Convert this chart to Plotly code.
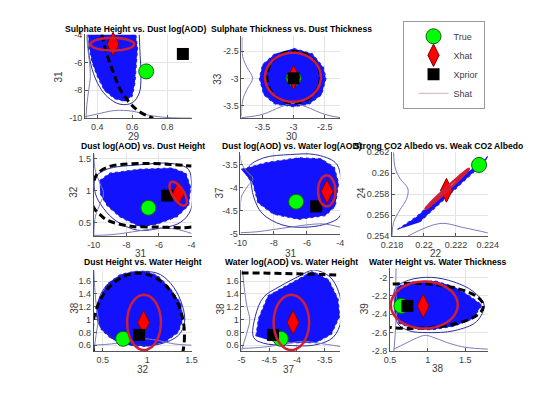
import numpy as np
import plotly.graph_objects as go

# panel order: rows of the 3x3 grid, the top-right cell holds the legend
titles = ["Sulphate Height vs. Dust log(AOD)", "Sulphate Thickness vs. Dust Thickness",
          "Dust log(AOD) vs. Dust Height", "Dust log(AOD) vs. Water log(AOD)",
          "Strong CO2 Albedo vs. Weak CO2 Albedo", "Dust Height vs. Water Height",
          "Water log(AOD) vs. Water Height", "Water Height vs. Water Thickness"]
x_names = ["29", "30", "31", "31", "22", "32", "37", "38"]
y_names = ["31", "33", "32", "37", "24", "38", "38", "39"]

x_ranges = [[0.33, 0.94], [-3.84, -2.25], [-10, -4], [-10, -4], [0.218, 0.224],
            [0.4, 1.5], [-5, -3.22], [0.5, 1.8]]
y_ranges = [[-10, -4], [-3.73, -2.23], [0.29, 1.58], [-5, -3.23], [0.254, 0.262],
            [0.51, 1.77], [0.51, 1.77], [-2.8, -1.9]]
x_ticks = [[0.4, 0.6, 0.8], [-3.5, -3, -2.5], [-10, -8, -6, -4], [-10, -8, -6, -4],
           [0.218, 0.22, 0.222, 0.224], [0.5, 1, 1.5], [-5, -4.5, -4, -3.5], [0.5, 1, 1.5]]
y_ticks = [[-10, -8, -6, -4], [-3.5, -3, -2.5], [0.5, 1, 1.5], [-5, -4.5, -4, -3.5],
           [0.254, 0.256, 0.258, 0.26, 0.262], [0.6, 0.8, 1, 1.2, 1.4, 1.6],
           [0.6, 0.8, 1, 1.2, 1.4, 1.6], [-2.8, -2.6, -2.4, -2.2, -2]]

# True / Xhat / Xprior points
true_x = [0.68, -3.0, -6.65, -6.65, 0.22345, 0.73, -4.29, 0.65]
true_y = [-6.65, -3.0, 0.73, -4.3, 0.26079, 0.70, 0.70, -2.31]
xhat_x = [0.49, -3.0, -4.82, -4.8, 0.22141, 0.96, -4.07, 0.94]
xhat_y = [-4.7, -2.98, 0.95, -4.08, 0.25837, 0.955, 0.955, -2.31]
xprior_x = [0.89, -3.0, -5.5, -5.44, None, 0.91, -4.43, 0.73]
xprior_y = [-5.4, -3.0, 0.92, -4.4, None, 0.76, 0.76, -2.31]

# Shat ellipse: centre and two half-axis vectors (data units)
shat_cx = [0.486, -3.01, -4.82, -4.81, 0.22145, 0.965, -4.1, 0.955]
shat_cy = [-4.7, -2.98, 0.95, -4.065, 0.2585, 0.955, 0.955, -2.3]
shat_u = [(0.125, 0), (0.45, 0), (0.44, -0.18), (0.52, 0), (0.00135, 0.0019),
          (0.19, 0), (0.32, 0), (0.445, 0)]
shat_v = [(0, 0.45), (0, 0.45), (0.30, 0.048), (0, 0.335), (0.00006, -0.0001),
          (0, 0.43), (0, 0.43), (0, 0.255)]

# prior ellipses (dashed), axis aligned: cx, cy, a, b
prior_ell = [None, (-3.0, -2.98, 0.43, 0.475), None, None, None,
             (0.9, 0.75, 0.52, 0.97), None, (0.78, -2.31, 0.96, 0.245)]
# prior arcs that leave the axes, read as polylines
prior_x = [[0.425, 0.445, 0.47, 0.5, 0.525, 0.56, 0.6, 0.65, 0.72], None,
           [-4.0, -4.5, -6.0, -7.6, -8.5, -9.2, -9.6, -10.0, -10.2, -10.0, -9.75, -9.2, -8.5, -7.0, -5.5, -4.5, -4.0],
           None, None, None, [-5.0, -4.5, -4.0, -3.5, -3.22], None]
prior_y = [[-4.0, -5.0, -6.0, -7.0, -7.8, -8.5, -9.1, -9.6, -10.0], None,
           [0.43, 0.42, 0.43, 0.44, 0.48, 0.54, 0.62, 0.73, 0.94, 1.15, 1.27, 1.36, 1.40, 1.42, 1.41, 1.39, 1.38],
           None, None, None, [1.727, 1.722, 1.712, 1.70, 1.69], None]

# posterior sample clouds (outline of the dense scatter)
cloud_x = [[0.35, 0.355, 0.37, 0.40, 0.44, 0.50, 0.56, 0.60, 0.615, 0.625, 0.63, 0.62],
           [-3.0, -2.7, -2.52, -2.48, -2.55, -2.75, -3.0, -3.3, -3.48, -3.55, -3.5, -3.3],
           [-9.65, -9.0, -7.2, -5.2, -4.35, -4.06, -4.18, -4.9, -6.2, -7.2, -8.4, -9.2, -9.6],
           [-9.95, -8.4, -6.5, -5.15, -4.35, -4.1, -4.3, -4.9, -6.5, -8.0, -8.95, -9.25, -9.65],
           [0.21835, 0.2195, 0.221, 0.2225, 0.2235, 0.22405, 0.2236, 0.2226, 0.2212, 0.2197],
           [0.43, 0.45, 0.55, 0.7, 0.85, 1.0, 1.12, 1.25, 1.38, 1.4, 1.35, 1.2, 1.0, 0.8, 0.6, 0.48],
           [-4.74, -4.69, -4.52, -4.24, -3.95, -3.72, -3.43, -3.26, -3.23, -3.38, -3.66, -4.12, -4.47],
           [0.56, 0.6, 0.8, 1.1, 1.35, 1.55, 1.72, 1.6, 1.35, 1.05, 0.8, 0.62, 0.56]]
cloud_y = [[-4.0, -5.0, -6.0, -7.0, -8.0, -8.6, -8.8, -8.4, -7.5, -6.0, -5.0, -4.0],
           [-2.45, -2.55, -2.8, -3.0, -3.3, -3.47, -3.52, -3.47, -3.3, -3.0, -2.75, -2.55],
           [1.15, 1.27, 1.33, 1.35, 1.27, 1.05, 0.77, 0.59, 0.47, 0.44, 0.59, 0.77, 0.95],
           [-3.6, -3.45, -3.35, -3.37, -3.56, -3.9, -4.4, -4.6, -4.68, -4.57, -4.32, -3.9, -3.73],
           [0.25462, 0.2558, 0.2578, 0.2598, 0.2610, 0.26165, 0.2608, 0.2594, 0.2574, 0.2553],
           [1.05, 1.3, 1.55, 1.7, 1.75, 1.75, 1.68, 1.5, 1.25, 1.0, 0.8, 0.65, 0.58, 0.6, 0.7, 0.85],
           [0.74, 1.02, 1.37, 1.5, 1.64, 1.75, 1.62, 1.32, 1.05, 0.77, 0.64, 0.64, 0.67],
           [-2.2, -2.1, -2.05, -2.04, -2.1, -2.2, -2.3, -2.45, -2.53, -2.57, -2.55, -2.5, -2.35]]

# density contour around each cloud
contour_x = [[0.345, 0.35, 0.37, 0.41, 0.46, 0.53, 0.60, 0.64, 0.65, 0.645, 0.64], None,
             [-9.9, -9.2, -7.2, -5.2, -4.2, -4.0, -4.05, -4.7, -6.2, -7.3, -8.6, -9.4, -9.9, -9.9],
             [-9.5, -8.6, -7.0, -5.5, -4.3, -4.0, -4.0, -4.6, -6.0, -7.5, -8.7, -9.2, -9.4, -9.5], None,
             [0.44, 0.5, 0.62, 0.78, 0.98, 1.15, 1.3, 1.4, 1.42, 1.35, 1.15, 0.95, 0.75, 0.55, 0.45, 0.44],
             [-4.78, -4.75, -4.6, -4.3, -3.95, -3.7, -3.4, -3.22, -3.2, -3.35, -3.7, -4.2, -4.6, -4.78],
             [0.57, 0.75, 1.05, 1.35, 1.6, 1.75, 1.65, 1.35, 1.0, 0.75, 0.6, 0.56, 0.57]]
contour_y = [[-4.0, -5.2, -6.5, -7.7, -8.5, -9.0, -8.9, -8.2, -7.0, -5.5, -4.0], None,
             [1.2, 1.33, 1.40, 1.42, 1.33, 1.1, 0.7, 0.5, 0.4, 0.38, 0.52, 0.72, 0.95, 1.2],
             [-3.55, -3.35, -3.28, -3.28, -3.45, -3.7, -4.6, -4.75, -4.85, -4.8, -4.55, -4.2, -3.8, -3.55], None,
             [1.2, 1.45, 1.62, 1.72, 1.75, 1.7, 1.5, 1.2, 0.95, 0.75, 0.62, 0.6, 0.65, 0.78, 0.95, 1.2],
             [0.72, 1.05, 1.35, 1.52, 1.68, 1.77, 1.66, 1.35, 1.0, 0.72, 0.6, 0.6, 0.63, 0.72],
             [-2.12, -2.03, -2.0, -2.05, -2.15, -2.3, -2.48, -2.58, -2.6, -2.58, -2.5, -2.3, -2.12]]

# marginal densities drawn on the left and bottom edges
kde_left_x = [[0.335, 0.34, 0.35, 0.36, 0.355, 0.345, 0.34],
              [-3.83, -3.82, -3.75, -3.66, -3.75, -3.82, -3.84],
              [-10, -9.9, -9.6, -9.4, -9.6, -9.9, -10],
              [-10, -9.95, -9.6, -9.25, -9.6, -9.95, -10],
              [0.2181, 0.2182, 0.2185, 0.219, 0.2189, 0.2185, 0.2181, 0.218],
              [0.4, 0.41, 0.43, 0.45, 0.43, 0.41, 0.4],
              [-4.98, -4.95, -4.9, -4.85, -4.9, -4.97, -5.0],
              [0.58, 0.58, 0.6, 0.58, 0.57, 0.55]]
kde_left_y = [[-10, -9, -8, -7, -6, -5, -4],
              [-2.25, -2.6, -2.8, -3.0, -3.2, -3.4, -3.7],
              [1.58, 1.3, 1.1, 0.95, 0.8, 0.6, 0.3],
              [-3.3, -3.47, -3.65, -3.8, -3.98, -4.2, -4.5],
              [0.262, 0.2605, 0.2595, 0.2585, 0.2575, 0.2565, 0.2553, 0.254],
              [1.77, 1.5, 1.2, 1.0, 0.8, 0.6, 0.51],
              [1.77, 1.5, 1.2, 1.0, 0.8, 0.6, 0.51],
              [-1.9, -2.2, -2.3, -2.45, -2.6, -2.8]]
kde_bottom_x = [[0.33, 0.4, 0.5, 0.6, 0.7, 0.8, 0.94],
                [-3.84, -3.5, -3.2, -3.0, -2.8, -2.5, -2.25],
                [-10, -9, -8, -7, -6, -5, -4],
                [-10, -9, -8, -7, -6, -5, -4],
                [0.219, 0.221, 0.2225, 0.224],
                [0.4, 0.6, 0.8, 0.95, 1.1, 1.3, 1.5],
                [-5, -4.6, -4.2, -3.9, -3.6, -3.22],
                [0.55, 0.7, 0.85, 0.97, 1.1, 1.3, 1.5, 1.8]]
kde_bottom_y = [[-9.9, -9.7, -9.45, -9.5, -9.8, -9.95, -10],
                [-3.72, -3.66, -3.52, -3.46, -3.52, -3.66, -3.72],
                [0.3, 0.31, 0.34, 0.38, 0.41, 0.40, 0.33],
                [-4.97, -4.95, -4.9, -4.85, -4.8, -4.78, -4.85],
                [0.254, 0.2552, 0.2548, 0.2543],
                [0.6, 0.62, 0.66, 0.7, 0.68, 0.62, 0.6],
                [0.55, 0.57, 0.62, 0.66, 0.63, 0.58],
                [-2.78, -2.72, -2.66, -2.63, -2.66, -2.72, -2.76, -2.78]]

# layout, in pixels of the 550x400 window (the page body adds an 8px margin)
PAGE_W, PAGE_H, BODY = 550, 400, 8
W, H = PAGE_W - 2 * BODY, PAGE_H - 2 * BODY
box_px = [(77, 188, 30, 116), (240, 343, 32, 116), (86, 188, 152, 237), (239, 343, 151, 235),
          (397, 497, 151, 237), (86, 188, 272, 355), (240, 343, 272, 355), (395, 497, 270, 355)]
title_px = [(130, 24), (292, 24), (137, 145), (293, 145), (446, 145), (137, 264), (292, 264), (445, 264)]
xlab_px = [(128, 135), (293, 135), (135, 255), (292, 255), (443, 255), (137, 374), (290, 374), (445, 373)]
ylab_px = [(49, 73), (215, 75), (65, 192), (217, 192), (365, 192), (65, 311), (218, 311), (368, 311)]
legend_px = (408, 16)


def px_x(px):
    return (px - BODY) / W


def px_y(py):
    return 1 - (py - BODY) / H


FONT = "Liberation Sans, Arial, sans-serif"
RED = "#cf1f36"


def ellipse_path(cx, cy, u, v, n=72):
    t = np.linspace(0, 2 * np.pi, n)
    xs = cx + u[0] * np.cos(t) + v[0] * np.sin(t)
    ys = cy + u[1] * np.cos(t) + v[1] * np.sin(t)
    pts = [f"{x:.7f},{y:.7f}" for x, y in zip(xs, ys)]
    return "M" + " L".join(pts) + " Z"


fig = go.Figure()
shapes = []
annotations = []

for i in range(8):
    xa = "x" if i == 0 else f"x{i + 1}"
    ya = "y" if i == 0 else f"y{i + 1}"
    sfx = "" if i == 0 else str(i + 1)

    fig.add_trace(go.Scatter(x=cloud_x[i], y=cloud_y[i], xaxis=xa, yaxis=ya, mode="lines",
                             fill="toself", fillcolor="#1212ff",
                             line=dict(color="#2020e0", width=1.2, dash="dot"),
                             showlegend=False, hoverinfo="skip"))
    if contour_x[i] is not None:
        fig.add_trace(go.Scatter(x=contour_x[i], y=contour_y[i], xaxis=xa, yaxis=ya, mode="lines",
                                 line=dict(color="#2c2c9c", width=1, shape="spline"),
                                 showlegend=False, hoverinfo="skip"))
    fig.add_trace(go.Scatter(x=kde_left_x[i], y=kde_left_y[i], xaxis=xa, yaxis=ya, mode="lines",
                             line=dict(color="#7c7cb8", width=1, shape="spline"),
                             showlegend=False, hoverinfo="skip"))
    fig.add_trace(go.Scatter(x=kde_bottom_x[i], y=kde_bottom_y[i], xaxis=xa, yaxis=ya, mode="lines",
                             line=dict(color="#7c7cb8", width=1, shape="spline"),
                             showlegend=False, hoverinfo="skip"))
    if prior_x[i] is not None:
        fig.add_trace(go.Scatter(x=prior_x[i], y=prior_y[i], xaxis=xa, yaxis=ya, mode="lines",
                                 line=dict(color="black", width=3, dash="7px,4px", shape="spline"),
                                 showlegend=False, hoverinfo="skip"))
    if prior_ell[i] is not None:
        cx, cy, a, b = prior_ell[i]
        shapes.append(dict(type="circle", xref=xa, yref=ya, x0=cx - a, x1=cx + a,
                           y0=cy - b, y1=cy + b, layer="above",
                           line=dict(color="black", width=3, dash="7px,4px")))

    shapes.append(dict(type="path", xref=xa, yref=ya, layer="above",
                       path=ellipse_path(shat_cx[i], shat_cy[i], shat_u[i], shat_v[i]),
                       line=dict(color=RED, width=2.5)))

    fig.add_trace(go.Scatter(x=[true_x[i]], y=[true_y[i]], xaxis=xa, yaxis=ya, mode="markers",
                             name="True", showlegend=(i == 0), cliponaxis=False,
                             marker=dict(symbol="circle", size=15, color="#00ff00",
                                         line=dict(color="#106010", width=1))))
    fig.add_trace(go.Scatter(x=[xhat_x[i]], y=[xhat_y[i]], xaxis=xa, yaxis=ya, mode="markers",
                             name="Xhat", showlegend=(i == 0), cliponaxis=False,
                             marker=dict(symbol="diamond-tall", size=17, color="#ff0000",
                                         line=dict(color="#800000", width=1))))
    if xprior_x[i] is not None:
        fig.add_trace(go.Scatter(x=[xprior_x[i]], y=[xprior_y[i]], xaxis=xa, yaxis=ya, mode="markers",
                                 name="Xprior", showlegend=(i == 0), cliponaxis=False,
                                 marker=dict(symbol="square", size=12, color="black")))

    left, right, top, bottom = box_px[i]
    axis_common = dict(showgrid=True, gridcolor="#e4e4e4", gridwidth=1, zeroline=False,
                       showline=True, linecolor="#555555", linewidth=1, ticks="inside",
                       ticklen=3, tickcolor="#555555",
                       tickfont=dict(family=FONT, size=9, color="#3c3c3c"))
    fig.layout["xaxis" + sfx] = dict(axis_common, domain=[px_x(left), px_x(right)],
                                     range=x_ranges[i], anchor=ya, tickvals=x_ticks[i],
                                     ticktext=[f"{v:g}" for v in x_ticks[i]])
    fig.layout["yaxis" + sfx] = dict(axis_common, domain=[px_y(bottom), px_y(top)],
                                     range=y_ranges[i], anchor=xa, tickvals=y_ticks[i],
                                     ticktext=[f"{v:g}" for v in y_ticks[i]])

    annotations.append(dict(text=f"<b>{titles[i]}</b>", xref="paper", yref="paper",
                            x=px_x(title_px[i][0]), y=px_y(title_px[i][1]), showarrow=False,
                            xanchor="center", yanchor="middle",
                            font=dict(family=FONT, size=8.6, color="black")))
    annotations.append(dict(text=x_names[i], xref="paper", yref="paper",
                            x=px_x(xlab_px[i][0]), y=px_y(xlab_px[i][1]), showarrow=False,
                            xanchor="center", yanchor="middle",
                            font=dict(family=FONT, size=10, color="#3c3c3c")))
    annotations.append(dict(text=y_names[i], xref="paper", yref="paper", textangle=-90,
                            x=px_x(ylab_px[i][0]), y=px_y(ylab_px[i][1]), showarrow=False,
                            xanchor="center", yanchor="middle",
                            font=dict(family=FONT, size=10, color="#3c3c3c")))

# legend entry for the Shat ellipses
fig.add_trace(go.Scatter(x=[None], y=[None], mode="lines", name="Shat",
                         line=dict(color="#d8aab8", width=1)))

fig.update_layout(
    width=W, height=H,
    margin=dict(l=0, r=0, t=0, b=0),
    paper_bgcolor="white", plot_bgcolor="white",
    font=dict(family=FONT),
    shapes=shapes, annotations=annotations,
    legend=dict(x=px_x(legend_px[0]), y=px_y(legend_px[1]), xanchor="left", yanchor="top",
                bgcolor="white", bordercolor="#9a9a9a", borderwidth=1,
                font=dict(family=FONT, size=9, color="#3c3c3c"), indentation=10),
)

fig.write_html("out.html")
